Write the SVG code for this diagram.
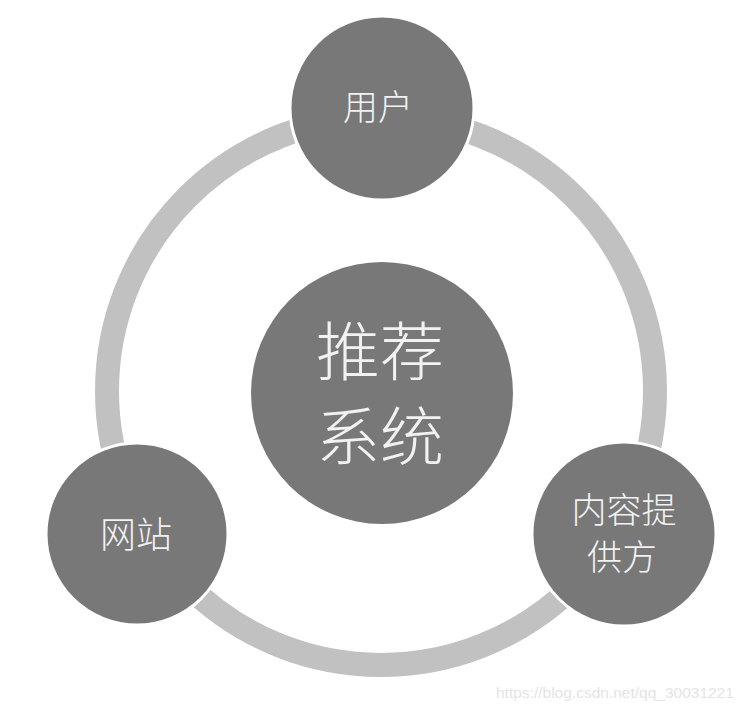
<svg xmlns="http://www.w3.org/2000/svg" width="746" height="710" viewBox="0 0 746 710">
<style>
.node{fill:#787878;stroke:#ffffff;stroke-width:3}
.lbl{fill:#f2f2f2;font-family:"Noto Sans CJK SC","Noto Sans",sans-serif;text-anchor:middle;dominant-baseline:central;font-weight:300}
</style>
<rect width="746" height="710" fill="#ffffff"/>
<g id="connectors">
<circle cx="381" cy="391" r="274" fill="none" stroke="#c1c1c1" stroke-width="24"/>
</g>
<g id="center">
<circle cx="382" cy="393" r="131" fill="#787878"/>
<text class="lbl" x="380" y="347" font-size="64">推荐</text>
<text class="lbl" x="380" y="432" font-size="64">系统</text>
</g>
<g id="user">
<circle class="node" cx="382" cy="108" r="92"/>
<text class="lbl" x="378" y="104" font-size="35">用户</text>
</g>
<g id="website">
<circle class="node" cx="137" cy="534" r="91"/>
<text class="lbl" x="136" y="532" font-size="36">网站</text>
</g>
<g id="provider">
<circle class="node" cx="624" cy="534" r="92"/>
<text class="lbl" x="624" y="507" font-size="35">内容提</text>
<text class="lbl" x="622" y="554" font-size="35">供方</text>
</g>
<text x="496" y="698" font-family="Liberation Sans,Arial,sans-serif" font-size="15.5" fill="#e4e4e4">https://blog.csdn.net/qq_30031221</text>
</svg>
